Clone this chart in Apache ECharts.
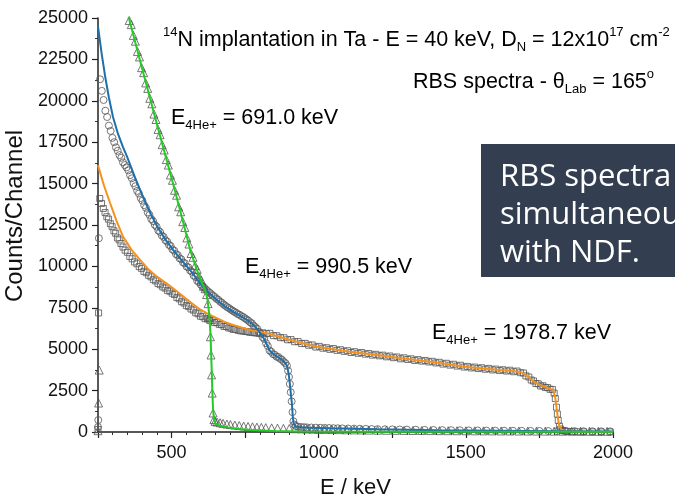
<!DOCTYPE html>
<html>
<head>
<meta charset="utf-8">
<title>RBS spectra - 14N in Ta</title>
<script src="https://cdn.jsdelivr.net/npm/echarts@6/dist/echarts.min.js"></script>
<style>
html, body { margin: 0; padding: 0; background: #fff; }
#main { width: 675px; height: 495px; }
</style>
</head>
<body>
<div id="main"></div>
<script>
// x tick labels (keV) that carry text
var xLabels = [500, 1000, 1500, 2000];

// E(4He+) = 691.0 keV : measured points [E keV, counts]
var spec691Data = [
  [250, 80], [252, 1750], [254, 3740],
  [356, 24850], [363, 24600], [370, 23950], [377, 23600], [384, 22980], [391, 22650], [398, 22000],
  [405, 21700], [412, 21080], [419, 20750], [426, 20150], [433, 19820], [440, 19200], [447, 18870],
  [454, 18270], [461, 17950], [468, 17350], [475, 17030], [482, 16450], [489, 16120], [496, 15520],
  [503, 15200], [510, 14600], [517, 14300], [524, 13600], [531, 13300], [538, 12700], [545, 12350],
  [552, 11720], [559, 11350], [566, 10780], [573, 10550], [580, 10050], [587, 9820], [594, 9380],
  [601, 9180], [608, 8800], [614, 8650], [619, 8300], [624, 7750], [628, 6950], [630, 6900],
  [632, 5750], [634, 4650], [636, 3450], [638, 2350], [641, 1150], [644, 750],
  [648, 640], [655, 600], [665, 560], [675, 520], [688, 480], [700, 450], [715, 420], [730, 390],
  [745, 360], [760, 335], [775, 315], [790, 295], [805, 280], [820, 265], [840, 250], [860, 235],
  [880, 220], [900, 210], [920, 200], [940, 190], [960, 180], [980, 172], [1000, 165], [1020, 158],
  [1045, 150], [1070, 142], [1095, 135], [1120, 128], [1145, 122], [1170, 116], [1200, 110],
  [1230, 104], [1260, 100], [1290, 96], [1320, 92], [1350, 88], [1380, 85], [1410, 82], [1440, 79],
  [1470, 76], [1500, 73], [1530, 70], [1560, 68], [1590, 66], [1620, 63], [1650, 61], [1680, 59],
  [1710, 57], [1740, 55], [1770, 53], [1800, 51], [1830, 49], [1860, 48], [1890, 46], [1920, 45],
  [1950, 43], [1980, 42]
];
var spec691Fit = [
  [340, 26000], [355, 25000], [400, 21950], [450, 18600], [505, 15000], [539, 12700], [563, 11000],
  [586, 9800], [600, 9150], [614, 8600], [622, 8000], [628, 7100], [632, 6000], [635, 4500],
  [638, 2800], [641, 1300], [645, 700], [650, 480], [665, 380], [690, 280], [720, 190], [766, 120],
  [850, 60], [936, 30], [1200, 15], [1600, 10], [2000, 8]
];

// E(4He+) = 990.5 keV
var spec990Data = [
  [250, 300], [251, 720], [253, 11700],
  [257, 21300], [263, 20600], [269, 20050], [275, 19400], [281, 19020], [287, 18500], [293, 18180],
  [299, 17760], [305, 17500], [311, 17190], [317, 16980], [323, 16720], [329, 16560], [335, 16280],
  [341, 16120], [347, 15980], [353, 15800], [359, 15510], [365, 15320], [371, 15030], [377, 14840],
  [383, 14560], [389, 14400], [395, 14130], [401, 13970], [407, 13700], [413, 13540], [419, 13260],
  [425, 13110], [431, 12860], [437, 12740], [443, 12510], [449, 12400], [455, 12160], [461, 12080],
  [467, 11860], [473, 11780], [479, 11580], [485, 11500], [491, 11300], [497, 11230], [503, 11020],
  [509, 10950], [515, 10740], [521, 10680], [527, 10490], [533, 10430], [539, 10240], [545, 10190],
  [551, 9990], [557, 9940], [563, 9750], [569, 9680], [575, 9450], [581, 9370], [587, 9130],
  [593, 9050], [599, 8900], [605, 8800], [611, 8720], [617, 8600], [623, 8500], [629, 8420],
  [635, 8320], [641, 8230], [647, 8150], [653, 8040], [659, 7980], [665, 7870], [671, 7800],
  [677, 7700], [683, 7620], [689, 7540], [695, 7480], [701, 7400], [707, 7330], [713, 7260],
  [719, 7200], [725, 7120], [731, 7080], [737, 7000], [743, 6950], [749, 6870], [755, 6800],
  [761, 6720], [767, 6620], [773, 6560], [779, 6420], [785, 6330], [791, 6230], [797, 6050],
  [803, 5940], [809, 5730], [815, 5620], [821, 5360], [827, 5190], [833, 4920], [839, 4840],
  [845, 4700], [851, 4660], [857, 4540], [863, 4530], [869, 4420], [875, 4370], [881, 4240],
  [887, 4160], [892, 4000], [896, 3700], [899, 3320], [902, 2900], [905, 2400], [908, 1850],
  [911, 1200], [914, 650], [917, 450], [922, 360], [930, 320], [940, 300], [950, 290], [960, 280],
  [975, 270], [990, 262], [1005, 255], [1020, 248], [1035, 240], [1050, 232], [1065, 225],
  [1080, 218], [1100, 210], [1120, 202], [1140, 195], [1160, 188], [1180, 180], [1200, 172],
  [1225, 165], [1250, 158], [1275, 150], [1300, 143], [1330, 136], [1360, 129], [1390, 122],
  [1420, 115], [1450, 108], [1480, 102], [1510, 96], [1540, 91], [1570, 86], [1600, 81],
  [1630, 77], [1660, 73], [1690, 69], [1720, 65], [1750, 62], [1780, 59], [1810, 56], [1840, 53],
  [1870, 50], [1900, 47], [1930, 44], [1960, 41], [1990, 38]
];
var spec990Fit = [
  [250, 24500], [262, 22900], [274, 21500], [287, 20200], [301, 19020], [318, 18000], [335, 17200],
  [349, 16610], [375, 15400], [403, 14190], [428, 13200], [454, 12320], [480, 11600], [505, 11000],
  [535, 10350], [563, 9780], [580, 9380], [597, 8980], [625, 8440], [654, 7970], [680, 7600],
  [709, 7250], [740, 6950], [766, 6650], [785, 6350], [800, 6000], [815, 5600], [834, 4900],
  [850, 4650], [868, 4450], [882, 4250], [892, 4020], [898, 3500], [902, 2900], [906, 2200],
  [909, 1700], [912, 900], [915, 500], [920, 350], [936, 290], [970, 260], [1040, 220],
  [1200, 160], [1400, 110], [1600, 80], [1800, 50], [2000, 30]
];

// E(4He+) = 1978.7 keV
var spec1979Data = [
  [250, 150], [252, 7190],
  [256, 14100], [262, 13800], [268, 13500], [274, 13250], [280, 13000], [286, 12850], [292, 12580],
  [298, 12400], [304, 12150], [310, 12000], [316, 11720], [322, 11600], [328, 11380], [335, 11170],
  [342, 10980], [350, 10850], [358, 10600], [366, 10460], [374, 10270], [382, 10160], [390, 9990],
  [398, 9880], [406, 9700], [414, 9620], [422, 9460], [430, 9370], [438, 9200], [446, 9120],
  [454, 8960], [462, 8890], [470, 8760], [478, 8690], [486, 8550], [494, 8500], [502, 8380],
  [510, 8300], [518, 8120], [526, 8040], [534, 7870], [542, 7790], [550, 7640], [558, 7570],
  [566, 7430], [574, 7360], [582, 7200], [590, 7140], [598, 6990], [606, 6960], [614, 6840],
  [622, 6830], [630, 6730], [638, 6720], [646, 6610], [654, 6600], [662, 6500], [670, 6480],
  [678, 6380], [686, 6370], [694, 6280], [702, 6270], [710, 6190], [718, 6200], [726, 6140],
  [734, 6110], [742, 6100], [750, 6070], [758, 6060], [766, 6020], [774, 6010], [782, 5990],
  [790, 5980], [798, 5960], [810, 5990], [822, 5940], [834, 5960], [846, 5820], [858, 5810],
  [870, 5700], [882, 5690], [894, 5570], [906, 5580], [918, 5450], [930, 5460], [942, 5340],
  [954, 5350], [966, 5240], [978, 5260], [990, 5130], [1002, 5170], [1014, 5060], [1026, 5090],
  [1038, 4990], [1050, 5040], [1062, 4930], [1074, 4970], [1086, 4870], [1098, 4910], [1110, 4800],
  [1122, 4850], [1134, 4750], [1146, 4800], [1158, 4700], [1170, 4740], [1182, 4640], [1194, 4690],
  [1206, 4600], [1218, 4640], [1230, 4540], [1242, 4590], [1254, 4490], [1266, 4530], [1278, 4420],
  [1290, 4480], [1302, 4380], [1314, 4420], [1326, 4320], [1338, 4370], [1350, 4280], [1362, 4320],
  [1374, 4230], [1386, 4270], [1398, 4170], [1410, 4210], [1422, 4100], [1434, 4150], [1446, 4040],
  [1458, 4090], [1470, 3980], [1482, 4030], [1494, 3920], [1506, 3960], [1518, 3870], [1530, 3920],
  [1542, 3830], [1554, 3880], [1566, 3790], [1578, 3840], [1590, 3750], [1602, 3800], [1614, 3710],
  [1626, 3760], [1638, 3680], [1650, 3730], [1662, 3640], [1674, 3680], [1686, 3580], [1696, 3560],
  [1704, 3390], [1714, 3320], [1722, 3140], [1730, 3080], [1738, 2930], [1746, 2910], [1754, 2780],
  [1762, 2790], [1770, 2690], [1778, 2680], [1786, 2580], [1794, 2570], [1800, 2350], [1804, 2020],
  [1808, 1500], [1811, 1080], [1814, 700], [1818, 350], [1822, 180], [1828, 90], [1835, 60],
  [1845, 40], [1860, 25], [1880, 15], [1900, 10], [1930, 8], [1960, 5], [1990, 5]
];
var spec1979Fit = [
  [250, 16100], [270, 14900], [291, 13830], [313, 12750], [335, 11800], [364, 11000], [393, 10390],
  [420, 9850], [450, 9380], [484, 8960], [505, 8680], [539, 8200], [570, 7760], [597, 7400],
  [625, 7120], [654, 6880], [680, 6650], [709, 6460], [740, 6300], [766, 6160], [800, 6050],
  [824, 5970], [850, 5830], [879, 5680], [910, 5520], [936, 5400], [994, 5150], [1048, 5000],
  [1106, 4850], [1164, 4720], [1220, 4600], [1276, 4470], [1330, 4350], [1388, 4230], [1445, 4080],
  [1504, 3930], [1560, 3830], [1616, 3740], [1660, 3680], [1690, 3600], [1710, 3350], [1730, 3050],
  [1752, 2830], [1775, 2680], [1796, 2540], [1803, 2150], [1808, 1500], [1813, 800], [1818, 350],
  [1825, 150], [1840, 50], [1900, 15], [2000, 5]
];

var font = '"Liberation Sans", Arial, sans-serif';
var chart = echarts.init(document.getElementById('main'));

function dataSeries(name, data, symbol, size) {
  return {
    name: name,
    type: 'scatter',
    data: data,
    symbol: symbol,
    symbolSize: size,
    itemStyle: { color: 'rgba(255,255,255,0)', borderColor: '#555', borderWidth: 1 },
    z: 2
  };
}
function fitSeries(name, data, color) {
  return {
    name: name,
    type: 'line',
    data: data,
    showSymbol: false,
    lineStyle: { color: color, width: 2 },
    z: 3
  };
}

// rich text styles for the annotations
var richText = {
  m: { fontFamily: font, fontSize: 21.5, lineHeight: 28, color: '#111' },
  s: { fontFamily: font, fontSize: 13, lineHeight: 13, verticalAlign: 'bottom', color: '#111' },
  u: { fontFamily: font, fontSize: 13, lineHeight: 13, verticalAlign: 'top', color: '#111' }
};
function note(x, y, text) {
  return { type: 'text', left: x, top: y, z: 10, style: { text: text, rich: richText } };
}

var option = {
  animation: false,
  backgroundColor: '#fff',
  grid: { left: 98, right: 62, top: 18, bottom: 63, outerBoundsMode: 'none' },
  xAxis: {
    type: 'value',
    min: 250,
    max: 2000,
    interval: 250,
    name: 'E / keV',
    nameLocation: 'middle',
    nameGap: 45,
    nameTextStyle: { fontFamily: font, fontSize: 22, color: '#111' },
    axisLine: { lineStyle: { color: '#222', width: 1.5 } },
    axisTick: { length: 6, lineStyle: { color: '#222', width: 1.2 } },
    minorTick: { show: true, splitNumber: 5, length: 3, lineStyle: { color: '#333' } },
    splitLine: { show: false },
    axisLabel: {
      fontFamily: font, fontSize: 18, color: '#111', margin: 12,
      formatter: function (v) { return xLabels.indexOf(v) >= 0 ? String(v) : ''; }
    }
  },
  yAxis: {
    type: 'value',
    min: 0,
    max: 25000,
    interval: 2500,
    name: 'Counts/Channel',
    nameLocation: 'middle',
    nameGap: 59,
    nameTextStyle: { fontFamily: font, fontSize: 24, color: '#111', padding: [0, 0, 0, 18] },
    axisLine: { show: true, lineStyle: { color: '#222', width: 1.5 } },
    axisTick: { show: true, length: 6, lineStyle: { color: '#222', width: 1.2 } },
    minorTick: { show: true, splitNumber: 2, length: 3, lineStyle: { color: '#333' } },
    splitLine: { show: false },
    axisLabel: {
      fontFamily: font, fontSize: 18, color: '#111', margin: 10,
      formatter: function (v) { return String(v); }
    }
  },
  series: [
    dataSeries('1978.7 keV data', spec1979Data, 'rect', 6),
    dataSeries('990.5 keV data', spec990Data, 'circle', 7),
    dataSeries('691.0 keV data', spec691Data, 'triangle', 8),
    fitSeries('1978.7 keV fit', spec1979Fit, '#f5921e'),
    fitSeries('990.5 keV fit', spec990Fit, '#1f6fab'),
    fitSeries('691.0 keV fit', spec691Fit, '#22cc22')
  ],
  graphic: [
    note(163, 26, '{u|14}{m|N implantation in Ta - E = 40 keV, D}{s|N}{m| = 12x10}{u|17}{m| cm}{u|-2}'),
    note(413, 68, '{m|RBS spectra - θ}{s|Lab}{m| = 165}{u|o}'),
    note(171, 107, '{m|E}{s|4He+}{m| = 691.0 keV}'),
    note(245, 256, '{m|E}{s|4He+}{m| = 990.5 keV}'),
    note(432, 322, '{m|E}{s|4He+}{m| = 1978.7 keV}'),
    {
      type: 'rect', z: 20,
      shape: { x: 481, y: 144, width: 194, height: 133 },
      style: { fill: '#333f50' }
    },
    {
      type: 'text', z: 21, x: 500, y: 158,
      style: {
        text: 'RBS spectra\nsimultaneou\nwith NDF.',
        fill: '#ffffff',
        font: '31px "Open Sans", "Noto Sans", sans-serif',
        lineHeight: 38
      }
    }
  ]
};

chart.setOption(option);
</script>
</body>
</html>
